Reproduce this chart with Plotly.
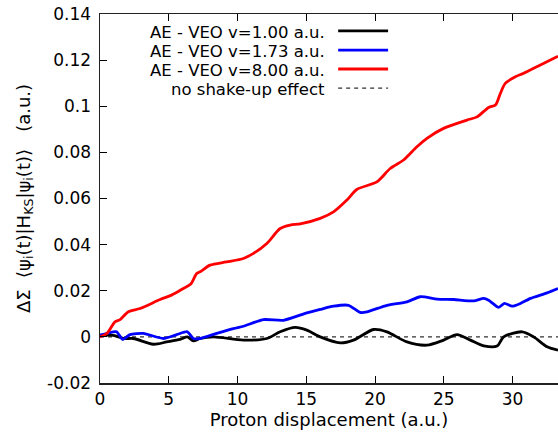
import plotly.graph_objects as go

# ---- data ----
red_x = [0, 0.5, 1.09, 1.46, 2.06, 2.91, 4.37, 5.2, 6.06, 6.6, 7.03, 7.28, 8.0, 9.2, 10.43, 11.16,
         12.13, 13.1, 13.83, 14.56, 16.01, 16.98, 17.95, 18.67, 20.13, 21.1, 22.07, 23.04, 23.77,
         24.98, 26.68, 27.41, 28.26, 28.75, 29.11, 29.48, 30.2, 30.81, 32.02, 33.3]
red_y = [0, 0.0015, 0.0065, 0.0075, 0.0109, 0.0123, 0.0162, 0.0181, 0.021, 0.0229, 0.0275, 0.0282,
         0.0311, 0.0325, 0.034, 0.0362, 0.0405, 0.047, 0.0485, 0.049, 0.0514, 0.0542, 0.0593, 0.0639,
         0.0672, 0.073, 0.0767, 0.0824, 0.0861, 0.0904, 0.094, 0.0954, 0.0995, 0.1005, 0.1056, 0.11,
         0.1128, 0.1143, 0.1179, 0.1217]

blue_x = [0, 0.97, 1.21, 1.65, 2.18, 3.15, 4.61, 5.58, 6.35, 6.79, 7.28, 8.49, 9.7, 10.43, 11.89,
          13.34, 15.04, 16.01, 16.98, 18.07, 18.92, 19.4, 20.86, 22.32, 23.29, 24.5, 25.72, 27.17,
          27.9, 28.26, 28.99, 29.4, 29.96, 30.57, 31.3, 32.51, 33.3]
blue_y = [0.0007, 0.0022, 0.0022, -0.0011, 0.001, 0.0015, -0.0007, 0.001, 0.0022, -0.0007, -0.0007,
          0.0015, 0.0036, 0.0046, 0.0075, 0.0072, 0.0104, 0.0119, 0.0133, 0.0137, 0.0106, 0.0108,
          0.0137, 0.0152, 0.0174, 0.0164, 0.0162, 0.0156, 0.0167, 0.0159, 0.0128, 0.0145, 0.0133,
          0.0145, 0.0167, 0.0191, 0.021]

black_x = [0, 0.97, 1.7, 2.43, 3.88, 4.85, 5.82, 6.35, 6.79, 7.28, 8.25, 10.43, 12.13, 13.1, 14.19,
           15.04, 16.01, 17.47, 18.43, 19.89, 20.86, 22.32, 23.77, 24.98, 25.96, 26.93, 27.9, 28.87,
           29.35, 30.69, 31.53, 32.51, 33.3]
black_y = [0.0007, 0.0007, -0.0007, -0.0007, -0.0032, -0.0022, -0.0011, 0, -0.0017, -0.0007, 0,
           -0.0014, -0.0007, 0.0022, 0.0041, 0.0029, 0, -0.0026, -0.0014, 0.0032, 0.0022, -0.0022,
           -0.0036, -0.0014, 0.001, -0.0014, -0.0039, -0.004, 0, 0.0022, 0, -0.0043, -0.0058]

ref_x = [0, 33.3]
ref_y = [0, 0]

series_names = ["AE - VEO v=1.00 a.u.", "AE - VEO v=1.73 a.u.", "AE - VEO v=8.00 a.u.",
                "no shake-up effect"]
x_ticks = [0, 5, 10, 15, 20, 25, 30]
y_ticks = [-0.02, 0, 0.02, 0.04, 0.06, 0.08, 0.1, 0.12, 0.14]
y_ticklabels = ["-0.02", "0", "0.02", "0.04", "0.06", "0.08", "0.1", "0.12", "0.14"]

FONT = "DejaVu Sans"
colors = ["#000000", "#0000ff", "#ff0000", "#333333"]

fig = go.Figure()
fig.add_trace(go.Scatter(x=ref_x, y=ref_y, mode="lines", name=series_names[3],
                         line=dict(color=colors[3], width=1.3, dash="4px,4px")))
fig.add_trace(go.Scatter(x=black_x, y=black_y, mode="lines", name=series_names[0],
                         line=dict(color=colors[0], width=2.8, shape="spline", smoothing=0.8)))
fig.add_trace(go.Scatter(x=blue_x, y=blue_y, mode="lines", name=series_names[1],
                         line=dict(color=colors[1], width=2.8, shape="spline", smoothing=0.6)))
fig.add_trace(go.Scatter(x=red_x, y=red_y, mode="lines", name=series_names[2],
                         line=dict(color=colors[2], width=2.8, shape="spline", smoothing=0.8)))

# gnuplot-style legend: text right-aligned, line sample on the right
leg_y = [0.954, 0.902, 0.851, 0.799]
leg_colors = [colors[0], colors[1], colors[2], colors[3]]
for i, name in enumerate(series_names):
    fig.add_annotation(xref="paper", yref="paper", x=0.4956, y=leg_y[i] - 0.004, text=name,
                       showarrow=False, xanchor="right", yanchor="middle",
                       font=dict(family=FONT, size=16.5, color="black"))
    fig.add_shape(type="line", xref="paper", yref="paper", x0=0.520, x1=0.629,
                  y0=leg_y[i], y1=leg_y[i],
                  line=dict(color=leg_colors[i], width=1.3 if i == 3 else 2.8,
                            dash="4px,4px" if i == 3 else "solid"))

axis_common = dict(showgrid=False, zeroline=False, ticks="inside", ticklen=7, tickwidth=1,
                   tickcolor="black", showline=True, linecolor="#222222", linewidth=1.5,
                   automargin=False, ticklabeloverflow="allow",
                   tickfont=dict(family=FONT, size=17, color="black"))

fig.update_layout(
    width=558, height=440,
    margin=dict(l=100, r=0, t=14, b=57, autoexpand=False),
    paper_bgcolor="white", plot_bgcolor="white",
    showlegend=False,
    font=dict(family=FONT, color="black"),
    xaxis=dict(range=[0, 33.3], tickvals=x_ticks, mirror="ticks",
               title=dict(text="Proton displacement (a.u.)", font=dict(family=FONT, size=18),
                          standoff=4),
               **axis_common),
    yaxis=dict(range=[-0.02, 0.14], tickvals=y_ticks, ticktext=y_ticklabels, mirror=False,
               ticklabelstandoff=4,
               title=dict(text="ΔΣ\u00a0\u00a0⟨ψ<sub>i</sub>(t)|H<sub>KS</sub>|ψ<sub>i</sub>(t)⟩\u00a0\u00a0\u00a0(a.u.)",
                          font=dict(family=FONT, size=18), standoff=12),
               **axis_common),
)

# remove the page's default 8px body margin so the figure sits at the window origin
fig.write_html("out.html",
               config={"displayModeBar": False, "staticPlot": True},
               post_script="document.body.style.margin='0';document.body.style.overflow='hidden';")
